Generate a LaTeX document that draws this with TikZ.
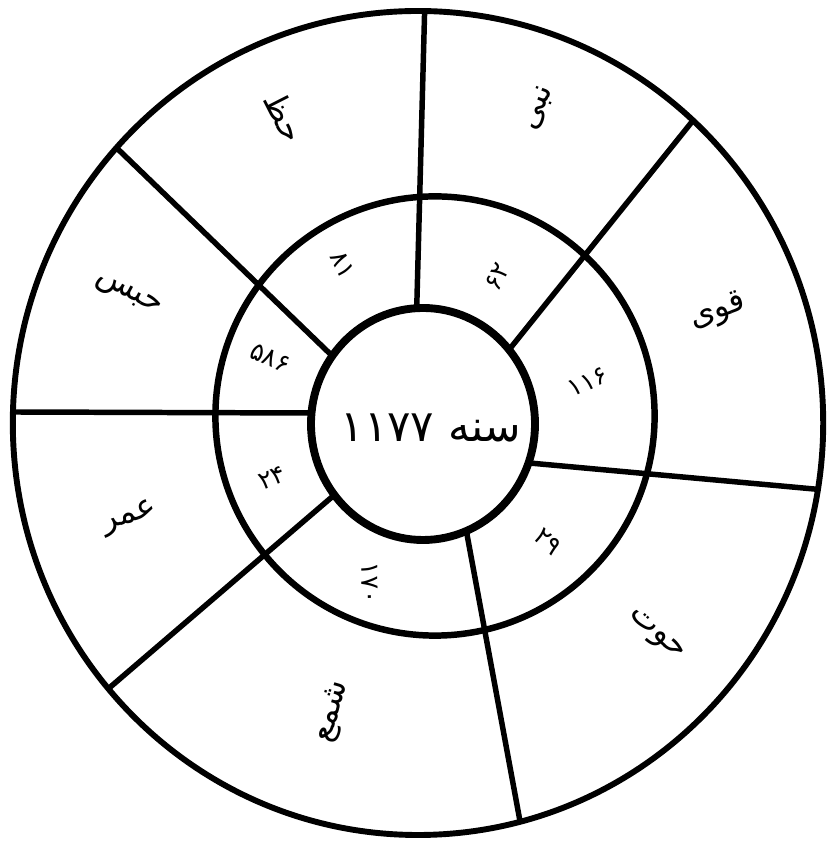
\documentclass[tikz,border=0pt]{standalone}
\usepackage{fontspec}
\TeXXeTstate=1
\newfontfamily\arabicfont[Script=Arabic]{DejaVu Sans}
\usetikzlibrary{calc}

\begin{document}
\begin{tikzpicture}[
    ring/.style={draw=black, line width=4.2pt},
    sep/.style={draw=black, line width=3.9pt, shorten <=-4pt, shorten >=-6pt},
    word/.style={font=\arabicfont\fontsize{23}{27}\selectfont, inner sep=1pt},
    num/.style={font=\arabicfont\fontsize{18}{21}\selectfont, inner sep=1pt},
    yr/.style={font=\arabicfont\fontsize{31}{37}\selectfont, inner sep=1pt},
]
\useasboundingbox (0,0) rectangle (20.675,21.025);

% ============================================================ the seven cuts
\coordinate (in1) at (10.42, 13.40);  \coordinate (out1) at (10.615, 20.73);
\coordinate (in2) at (12.79, 12.36);  \coordinate (out2) at (17.375, 18.075);
\coordinate (in3) at (13.345, 9.44);  \coordinate (out3) at (20.625, 8.775);
\coordinate (in4) at (11.67, 7.69);   \coordinate (out4) at (13.025, 0.36);
\coordinate (in5) at (8.31, 8.61);    \coordinate (out5) at (2.77, 3.86);
\coordinate (in6) at (7.71, 10.70);   \coordinate (out6) at (0.395, 10.725);
\coordinate (in7) at (8.24, 12.19);   \coordinate (out7) at (2.97, 17.275);

\begin{scope}
  \clip (10.45, 10.45) ellipse [x radius=10.13, y radius=10.30];
  \draw[sep] (in1) -- (out1);
  \draw[sep] (in2) -- (out2);
  \draw[sep] (in3) -- (out3);
  \draw[sep] (in4) -- (out4);
  \draw[sep] (in5) -- (out5);
  \draw[sep] (in6) -- (out6);
  \draw[sep] (in7) -- (out7);
\end{scope}

% ================================================================== rings
\draw[ring] (10.45, 10.45) ellipse [x radius=10.13, y radius=10.30];
\draw[ring, line width=4.6pt] (10.875, 10.625) circle (5.49);
\draw[ring, line width=5.6pt, fill=white] (10.575, 10.425)
     ellipse [x radius=2.8, y radius=2.9];

\node[yr] (year) at (10.775, 10.325) {\beginR سنه \beginL۱۱۷۷\endL\endR};

% ============================================================= outer ring
\node[word, rotate=-63] (w1) at (7.125, 18.10) {\beginR حظ\endR};
\node[word, rotate=69]  (w2) at (13.475, 18.325) {\beginR نبی\endR};
\node[word, rotate=20]  (w3) at (17.95, 13.225) {\beginR قوی\endR};
\node[word, rotate=-42] (w4) at (16.375, 5.125) {\beginR حوت\endR};
\node[word, rotate=74]  (w5) at (8.325, 3.225) {\beginR شمع\endR};
\node[word, rotate=18]  (w6) at (3.25, 8.075) {\beginR عمر\endR};
\node[word, rotate=-28] (w7) at (3.20, 13.65) {\beginR حبس\endR};

% ============================================================= inner ring
\node[num, rotate=-63] (n1) at (8.575, 14.40) {۸۱};
\node[num, rotate=63]  (n2) at (12.425, 14.10) {۶۲};
\node[num, rotate=25]  (n3) at (14.70, 11.475) {۱۱۶};
\node[num, rotate=-43] (n4) at (13.70, 7.475) {۲۹};
\node[num, rotate=-88] (n5) at (9.25, 6.45) {۱۷۰};
\node[num, rotate=20]  (n6) at (6.80, 9.075) {۲۴};
\node[num, rotate=-23] (n7) at (6.75, 12.075) {۵۸۶};

\end{tikzpicture}
\end{document}
